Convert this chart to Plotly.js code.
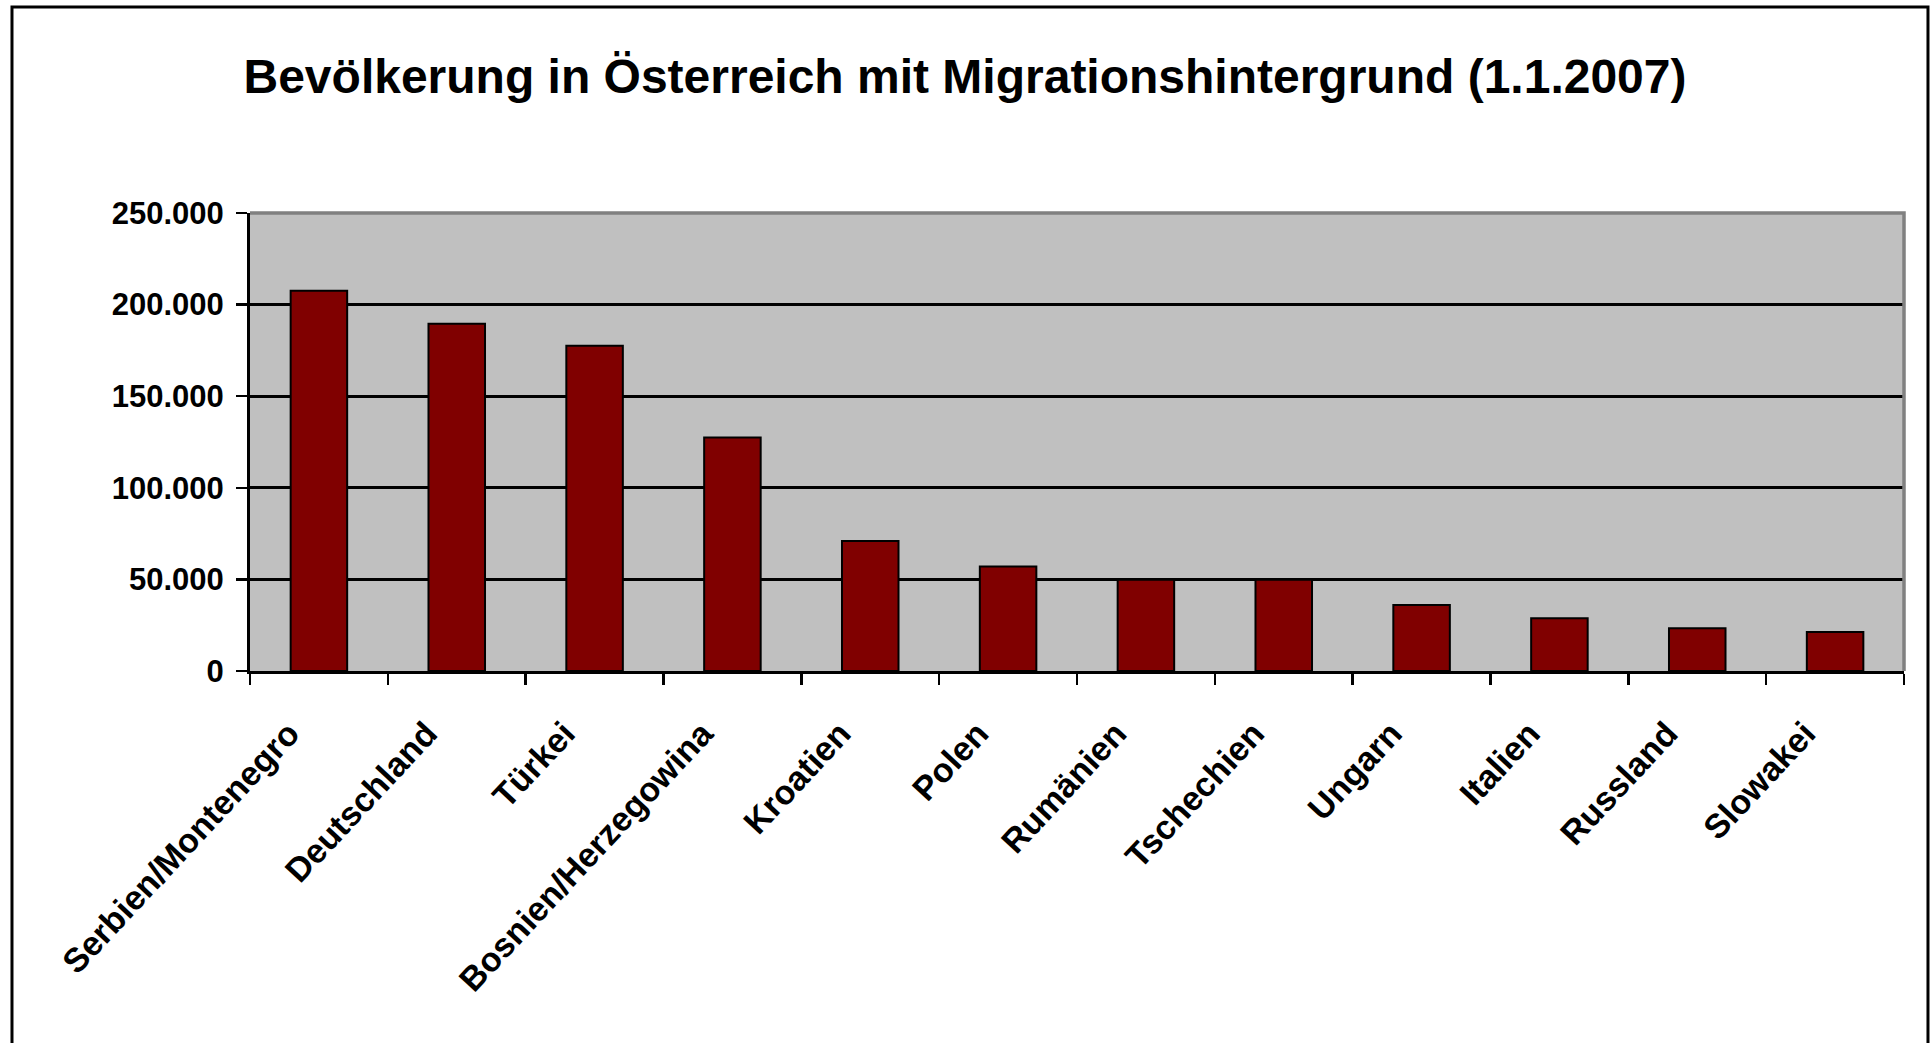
<!DOCTYPE html>
<html>
<head>
<meta charset="utf-8">
<script src="https://cdn.plot.ly/plotly-3.0.1.min.js"></script>
<style>
html,body{margin:0;padding:0;background:#fff;}
#chart{width:1930px;height:1043px;}
</style>
</head>
<body>
<div id="chart"></div>
<script>
const categories = ["Serbien/Montenegro","Deutschland","Türkei","Bosnien/Herzegowina","Kroatien","Polen","Rumänien","Tschechien","Ungarn","Italien","Russland","Slowakei"];
const values = [207500, 189500, 177500, 127500, 71000, 57000, 49800, 49800, 36000, 28800, 23300, 21300];
const yTicks = [0, 50000, 100000, 150000, 200000, 250000];
const titleText = "Bevölkerung in Österreich mit Migrationshintergrund (1.1.2007)";

const font = {family: "Liberation Sans, Arial, sans-serif", color: "#000"};

const trace = {
  type: "bar",
  x: categories,
  y: values,
  marker: {color: "#800000", line: {color: "#000", width: 2}},
  hoverinfo: "x+y"
};

const layout = {
  width: 1930, height: 1043,
  margin: {l: 250, r: 26, t: 213, b: 372, pad: 0},
  paper_bgcolor: "#ffffff",
  plot_bgcolor: "#c0c0c0",
  separators: ",.",
  showlegend: false,
  bargap: 0.59,
  title: {
    text: titleText,
    font: Object.assign({}, font, {size: 48, weight: "bold"}),
    x: 0.5, xref: "container", xanchor: "center",
    y: 0.927, yref: "container", yanchor: "middle"
  },
  xaxis: {
    type: "category",
    showline: true, linecolor: "#000", linewidth: 3,
    ticks: "outside", tickson: "boundaries", ticklen: 11, tickwidth: 2.5, tickcolor: "#000",
    tickangle: -47,
    ticklabelstandoff: 26,
    ticklabelshift: -30,
    tickfont: Object.assign({}, font, {size: 34, weight: "bold"}),
    showgrid: false, zeroline: false, fixedrange: true
  },
  yaxis: {
    range: [0, 250000],
    tickvals: yTicks,
    tickformat: ",d",
    showline: true, linecolor: "#000", linewidth: 3,
    ticks: "outside", ticklen: 11, tickwidth: 2.5, tickcolor: "#000",
    ticklabelstandoff: 6,
    tickfont: Object.assign({}, font, {size: 31, weight: "bold"}),
    showgrid: true, gridcolor: "#000", gridwidth: 2.7,
    zeroline: false, fixedrange: true
  },
  shapes: [
    {type: "path", xref: "paper", yref: "paper", layer: "above",
     path: "M 0 1 L 1 1 L 1 0", line: {color: "#808080", width: 3.5}},
    {type: "rect", xref: "paper", yref: "paper", layer: "above",
     x0: -0.1439, x1: 1.0145, y0: -0.84, y1: 1.4498,
     line: {color: "#000", width: 3}, fillcolor: "rgba(0,0,0,0)"}
  ]
};

Plotly.newPlot("chart", [trace], layout, {displayModeBar: false, staticPlot: true});
</script>
</body>
</html>
